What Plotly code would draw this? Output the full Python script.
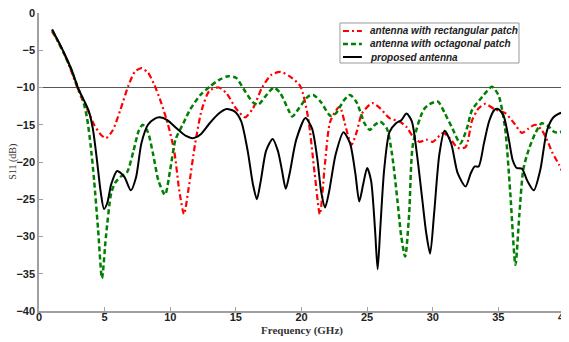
import plotly.graph_objects as go

# ---------------- data ----------------
series_names = ["antenna with rectangular patch",
                "antenna with octagonal patch",
                "proposed antenna"]

rect_f = [1, 1.5, 2, 2.5, 3, 3.3, 3.7, 4.2, 4.7, 5.1, 5.6, 6.2, 6.8, 7.3, 7.8, 8.3, 8.8, 9.3, 9.8,
          10.3, 10.7, 11.05, 11.4, 11.9, 12.4, 13.0, 13.7, 14.3, 15.0, 15.7, 16.3, 17.0, 17.7, 18.4,
          19.1, 19.9, 20.5, 21.0, 21.4, 21.8, 22.2, 22.9, 23.4, 23.8, 24.2, 24.6, 25.4, 26.0, 26.7,
          27.5, 28.0, 28.5, 29.0, 29.5, 30.0, 30.5, 30.8, 31.3, 31.9, 32.5, 33.0, 33.5, 34.0, 34.7,
          35.5, 36.2, 36.8, 37.3, 37.8, 38.3, 38.7, 39.1, 39.6, 40]
rect_s11 = [-2.5, -4.0, -5.8, -8.0, -10.4, -11.6, -13.0, -15.0, -16.3, -16.8, -15.8, -13.0, -9.8,
            -7.9, -7.4, -8.0, -9.7, -12.0, -14.8, -18.5, -24.0, -27.0, -23.5, -17.5, -13.0, -10.4,
            -10.0, -10.8, -12.8, -14.0, -12.8, -10.0, -8.3, -7.9, -8.5, -9.8, -14.0, -21.5, -27.0,
            -20.0, -14.5, -12.6, -15.5, -17.7, -16.0, -13.5, -12.1, -12.8, -14.1, -14.6, -15.3,
            -16.6, -17.3, -17.0, -17.3, -16.5, -16.1, -16.8, -18.1, -18.0, -14.4, -12.8, -12.2,
            -12.9, -13.4, -14.8, -16.1, -15.5, -15.0, -15.7, -17.0, -18.7, -20.3, -21.8]

oct_f = [1, 1.5, 2, 2.5, 3, 3.3, 3.65, 3.95, 4.2, 4.5, 4.8, 5.1, 5.5, 5.8, 6.2, 6.7, 7.2, 7.6, 7.9,
         8.3, 8.7, 9.1, 9.6, 10.0, 10.4, 11.0, 11.5, 12.3, 13.0, 13.7, 14.4, 15.0, 15.7, 16.3, 16.7,
         17.2, 17.9, 18.4, 19.0, 19.3, 19.8, 20.5, 20.9, 21.5, 22.2, 22.6, 23.2, 23.7, 24.2, 24.8,
         25.2, 25.6, 26.0, 26.5, 26.9, 27.3, 27.6, 27.9, 28.2, 28.5, 29.3, 29.8, 30.4, 30.9, 31.5,
         32.1, 32.6, 33.0, 33.8, 34.5, 35.0, 35.5, 35.9, 36.3, 36.6, 36.9, 37.3, 37.8, 38.3, 38.8,
         39.3, 39.7, 40]
oct_s11 = [-2.3, -4.0, -5.8, -7.8, -10.2, -11.4, -14.0, -18.0, -22.5, -29.0, -35.6, -30.0, -24.2,
           -22.8, -22.0, -21.4, -18.5, -15.8, -15.0, -16.0, -19.0, -22.5, -24.4, -21.0, -17.0,
           -14.8, -13.0, -11.0, -9.9, -9.0, -8.5, -8.7, -10.5, -12.0, -12.3, -11.3, -10.0, -10.8,
           -13.0, -13.9, -12.8, -11.2, -11.0, -12.0, -13.8, -13.5, -11.8, -11.0, -12.0, -14.8,
           -15.7, -15.0, -14.6, -15.5, -19.0, -25.0, -30.0, -32.7, -27.0, -17.5, -13.0, -12.2,
           -11.9, -13.4, -15.5, -17.5, -15.5, -13.0, -11.2, -9.9, -11.0, -15.3, -24.0, -33.8,
           -27.0, -21.0, -18.4, -16.2, -14.8, -15.2, -16.0, -16.0, -15.6]

prop_f = [1, 1.5, 2, 2.5, 3, 3.5, 3.8, 4.1, 4.4, 4.7, 4.95, 5.2, 5.5, 5.95, 6.5, 7.0, 7.4, 7.8, 8.3,
          8.8, 9.2, 9.8, 10.5, 11.2, 11.7, 12.3, 13.0, 13.7, 14.3, 14.9, 15.4, 15.9, 16.3, 16.6,
          16.9, 17.3, 17.8, 18.2, 18.5, 18.8, 19.1, 19.6, 20.3, 20.8, 21.2, 21.5, 21.8, 22.1, 22.6,
          23.2, 23.7, 24.1, 24.4, 24.7, 25.0, 25.3, 25.6, 25.8, 26.0, 26.3, 26.7, 27.2, 27.6, 28.0,
          28.4, 28.8, 29.2, 29.5, 29.8, 30.1, 30.5, 30.9, 31.4, 31.9, 32.5, 32.9, 33.2, 33.5, 33.9,
          34.3, 34.7, 35.0, 35.4, 35.8, 36.1, 36.4, 36.8, 37.2, 37.7, 38.2, 38.7, 39.2, 39.8, 40]
prop_s11 = [-2.2, -3.9, -5.7, -7.7, -10.2, -12.0, -13.2, -15.5, -19.5, -24.0, -26.3, -25.5, -23.0,
            -21.2, -22.0, -23.8, -22.0, -17.5, -15.0, -14.2, -14.0, -14.4, -15.5, -16.5, -16.8,
            -16.3, -14.8, -13.5, -12.9, -13.2, -14.5, -18.5, -23.0, -25.0, -22.5, -18.5, -16.9,
            -18.5, -21.0, -23.6, -21.5, -17.0, -14.1, -15.5, -19.5, -24.0, -26.1, -24.0, -19.0,
            -16.0, -17.5, -21.5, -25.3, -23.0, -20.8, -22.5, -29.0, -34.4, -29.0, -21.0, -16.0,
            -14.8, -14.4, -13.5, -14.5, -19.0, -25.0, -29.5, -32.3, -27.0, -19.0, -15.8, -17.5,
            -21.5, -23.3, -21.5, -20.6, -20.6, -17.5, -14.5, -13.0, -12.9, -13.8, -17.0, -19.8,
            -20.8, -20.9, -22.5, -23.8, -21.0, -15.8, -14.0, -13.4, -13.6]

threshold_db = -10
x_ticks = [0, 5, 10, 15, 20, 25, 30, 35, 40]
y_ticks = [0, -5, -10, -15, -20, -25, -30, -35, -40]
x_title = "Frequency (GHz)"
y_title = "S11 (dB)"

colors = ["#ff0000", "#008000", "#000000"]
dashes = ["6px,3px,2px,3px", "5px,3px", "solid"]
widths = [2.2, 2.5, 2.0]

# ---------------- figure ----------------
fig = go.Figure()

# -10 dB reference line
fig.add_trace(go.Scatter(x=[0, 40], y=[threshold_db, threshold_db], mode="lines",
                         line=dict(color="#555555", width=1.2), showlegend=False,
                         hoverinfo="skip"))

for f, s, name, c, d, w in zip([rect_f, oct_f, prop_f], [rect_s11, oct_s11, prop_s11],
                               series_names, colors, dashes, widths):
    fig.add_trace(go.Scatter(x=f, y=s, mode="lines", name=name,
                             line=dict(color=c, dash=d, width=w, shape="spline", smoothing=0.7),
                             showlegend=False))

# manual compact legend (paper coords)
lx0, lx1, ly0, ly1 = 0.5733, 0.9143, 0.8322, 0.9664
fig.add_shape(type="rect", xref="paper", yref="paper", x0=lx0, x1=lx1, y0=ly0, y1=ly1,
              line=dict(color="#9a9a9a", width=1), fillcolor="white", layer="above")
row_y = [0.9396, 0.8960, 0.8523]
for yy, name, c, d, w in zip(row_y, series_names, colors, dashes, widths):
    fig.add_shape(type="line", xref="paper", yref="paper", x0=0.579, x1=0.615, y0=yy, y1=yy,
                  line=dict(color=c, width=w, dash=d), layer="above")
    fig.add_annotation(xref="paper", yref="paper", x=0.6267, y=yy, text=name, showarrow=False,
                       xanchor="left", yanchor="middle",
                       font=dict(family="Liberation Sans, Arial", size=10, color="#222222",
                                 weight="bold", style="italic"))

# axis titles as annotations for precise placement
fig.add_annotation(xref="paper", yref="paper", x=0.5, y=-0.066, text=x_title, showarrow=False,
                   xanchor="center", yanchor="middle",
                   font=dict(family="Liberation Serif, Times New Roman", size=11,
                             color="#333333", weight="bold"))
fig.add_annotation(xref="paper", yref="paper", x=-0.05, y=0.5, text=y_title, showarrow=False,
                   xanchor="center", yanchor="middle", textangle=-90,
                   font=dict(family="Liberation Serif, Times New Roman", size=10,
                             color="#333333"))

axis_common = dict(showgrid=False, zeroline=False, showline=True, linecolor="#a0a0a0",
                   linewidth=1.5, ticks="inside", ticklen=4, tickcolor="#a0a0a0",
                   automargin=False, ticklabeloverflow="allow",
                   tickfont=dict(family="Liberation Sans, Arial", size=11, color="#222222",
                                 weight="bold"))

fig.update_xaxes(range=[0, 40], tickvals=x_ticks, ticklabelstandoff=-5, **axis_common)
fig.update_yaxes(range=[-40, 0], tickvals=y_ticks, **axis_common)

# page body has an 8px margin, so the figure is sized/offset to keep the plot area in place
fig.update_layout(width=561, height=334, margin=dict(l=31, r=5, t=5, b=31),
                  plot_bgcolor="white", paper_bgcolor="white", showlegend=False)

fig.write_html("out.html")
